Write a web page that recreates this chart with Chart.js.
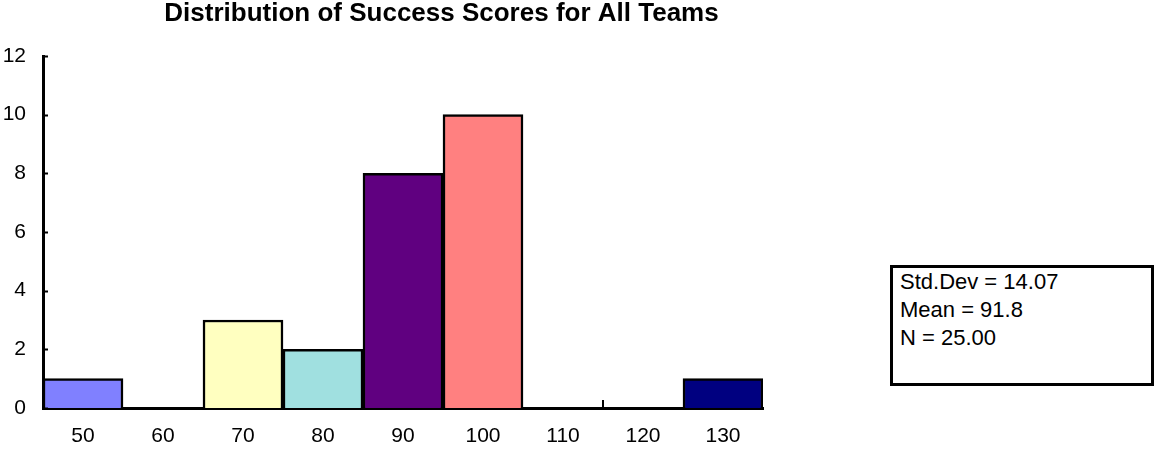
<!DOCTYPE html>
<html lang="en">
<head>
    <meta charset="UTF-8">
    <title>Distribution of Success Scores for All Teams</title>
    <script src="https://cdn.jsdelivr.net/npm/chart.js"></script>
    <style>
        body { margin: 0; background: #fff; }
        .wrap { position: relative; width: 1155px; height: 450px; }
        .chart-box { position: absolute; left: 0; top: 0; width: 880px; height: 450px; }
        .stats {
            position: absolute; left: 890px; top: 265px; width: 264px; height: 121px;
            box-sizing: border-box; border: 3px solid #000; padding: 0 0 0 7px;
            font-family: Arial, "Liberation Sans", sans-serif; font-size: 22px; line-height: 28px; color: #000;
        }
    </style>
</head>
<body>
    <div class="wrap">
        <div class="chart-box"><canvas id="histChart"></canvas></div>
        <div class="stats">
            <div>Std.Dev = 14.07</div>
            <div>Mean = 91.8</div>
            <div>N = 25.00</div>
        </div>
    </div>

    <script>
        const binLabels = ['50', '60', '70', '80', '90', '100', '110', '120', '130'];
        const counts = [1, 0, 3, 2, 8, 10, 0, 0, 1];
        const binColors = ['#8080ff', '#ffffff', '#ffffc0', '#a0e0e0', '#600080', '#ff8080', '#ffffff', '#ffffff', '#000080'];
        const yMax = 12;
        const yStep = 2;

        const fontFamily = 'Arial, "Liberation Sans", sans-serif';

        // short inward tick marks on the y axis, plus the lone tick on the x axis
        const axisTicks = {
            id: 'axisTicks',
            afterDraw(chart) {
                const ctx = chart.ctx;
                const y = chart.scales.y;
                const x = chart.scales.x;
                const left = chart.chartArea.left;
                const bottom = chart.chartArea.bottom;
                ctx.save();
                ctx.strokeStyle = '#000';
                ctx.lineWidth = 2;
                ctx.beginPath();
                for (let v = 0; v <= yMax; v += yStep) {
                    const py = Math.round(y.getPixelForValue(v)) + 0.5;
                    ctx.moveTo(left, py);
                    ctx.lineTo(left + 5, py);
                }
                const px = Math.round((x.getPixelForValue(6) + x.getPixelForValue(7)) / 2);
                ctx.moveTo(px, bottom);
                ctx.lineTo(px, bottom - 8);
                ctx.stroke();
                ctx.restore();
            }
        };

        new Chart(document.getElementById('histChart'), {
            type: 'bar',
            data: {
                labels: binLabels,
                datasets: [{
                    data: counts,
                    backgroundColor: binColors,
                    borderColor: '#000',
                    borderWidth: 2.5,
                    borderSkipped: 'bottom',
                    barPercentage: 1,
                    categoryPercentage: 1
                }]
            },
            options: {
                responsive: true,
                maintainAspectRatio: false,
                animation: false,
                layout: { padding: { left: 3, right: 0, top: 0, bottom: 1 } },
                plugins: {
                    legend: { display: false },
                    tooltip: { enabled: false },
                    title: {
                        display: true,
                        text: 'Distribution of Success Scores for All Teams',
                        color: '#000',
                        font: { family: fontFamily, size: 26, weight: 'bold', lineHeight: 1 },
                        padding: { top: 1, bottom: 29 }
                    }
                },
                scales: {
                    x: {
                        grid: { display: false, drawTicks: false },
                        border: { display: true, color: '#000', width: 3 },
                        ticks: { color: '#000', padding: 16, font: { family: fontFamily, size: 21 } },
                        afterFit(scale) { scale.height = 41; }
                    },
                    y: {
                        min: 0,
                        max: yMax,
                        grid: { display: false, drawTicks: false },
                        border: { display: true, color: '#000', width: 3 },
                        ticks: { stepSize: yStep, color: '#000', padding: 17, font: { family: fontFamily, size: 21 } },
                        afterFit(scale) { scale.width = 40; }
                    },
                    // empty strip on the right so the plot ends short of the canvas edge
                    gap: {
                        type: 'linear',
                        position: 'right',
                        grid: { display: false, drawTicks: false },
                        border: { display: false },
                        ticks: { display: false },
                        afterFit(scale) { scale.width = 117; }
                    }
                }
            },
            plugins: [axisTicks]
        });
    </script>
</body>
</html>
